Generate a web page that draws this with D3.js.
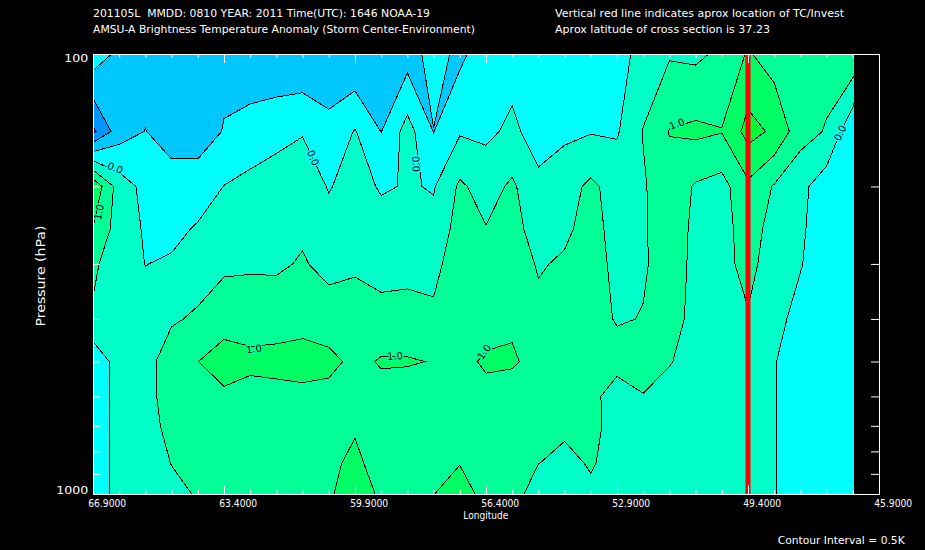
<!DOCTYPE html>
<html>
<head>
<meta charset="utf-8">
<script src="https://cdn.jsdelivr.net/npm/d3@7"></script>
<style>
  body { margin: 0; background: #000; }
  svg { display: block; font-family: "DejaVu Sans", sans-serif; }
  text { white-space: pre; }
</style>
</head>
<body>
<svg id="chart" width="925" height="550"></svg>
<script>
// grid longitudes (deg E) and pressure levels (hPa)
const lons = [66.9, 66.2, 65.5, 64.8, 64.1, 63.4, 62.7, 62.0, 61.3, 60.6,
              59.9, 59.2, 58.5, 57.8, 57.1, 56.4, 55.7, 55.0, 54.3, 53.6,
              52.9, 52.2, 51.5, 50.8, 50.1, 49.4, 48.7, 48.0, 47.3, 46.6];
const levels = [100, 150, 200, 250, 300, 400, 500, 600, 700, 850, 1000];

// temperature anomaly (K), one row per level, west -> east
const t100 = [-0.2, -0.62, -0.75, -0.8, -0.8, -0.6, -0.7, -0.75, -0.95, -0.8, -0.98, -0.85, -0.73, -0.31, -0.62, -0.2, -0.2, -0.3, -0.3, -0.3, -0.2, 0.18, 0.45, 0.4, 0.6, 1.05, 0.76, 0.8, 0.7, 0.9];
const t150 = [-1.6, -0.73, -0.49, -0.7, -0.7, -0.48, -0.39, -0.3, -0.05, -0.38, 0.03, -0.51, 0.2, -0.51, -0.05, -0.1, 0.1, -0.2, -0.1, -0.03, -0.05, 0.52, 1.02, 1.1, 1.02, 1.68, 1.41, 0.7, 0.46, -0.4];
const t200 = [1.4, 0.25, -0.14, -0.3, -0.3, 0.01, 0.18, 0.45, 0.45, -0.05, 0.3, -0.08, 0.05, -0.04, 0.58, 0.3, 0.58, 0.11, 0.3, 0.6, 0.3, 0.45, 0.8, 0.45, 0.32, 0.9, 0.46, 0.13, -0.27, -0.4];
const t250 = [0.98, 0.25, -0.05, -0.15, 0.06, 0.3, 0.35, 0.4, 0.45, 0.26, 0.35, 0.3, 0.3, 0.16, 0.7, 0.52, 0.7, 0.25, 0.4, 0.7, 0.3, 0.45, 0.75, 0.4, 0.3, 0.75, 0.3, 0.08, -0.3, -0.4];
const t300 = [0.56, 0.3, -0.01, 0.07, 0.3, 0.45, 0.46, 0.45, 0.53, 0.4, 0.45, 0.35, 0.35, 0.35, 0.8, 0.7, 0.8, 0.45, 0.57, 0.75, 0.35, 0.45, 0.7, 0.4, 0.35, 0.65, 0.25, 0.03, -0.3, -0.4];
const t400 = [0.46, 0.3, 0.2, 0.45, 0.56, 0.66, 0.67, 0.69, 0.75, 0.66, 0.66, 0.64, 0.68, 0.6, 0.85, 0.85, 0.95, 0.64, 0.75, 0.75, 0.45, 0.52, 0.7, 0.35, 0.35, 0.46, 0.15, -0.16, -0.35, -0.4];
const t500 = [-0.41, 0.25, 0.35, 0.72, 0.99, 1.37, 1.18, 1.22, 1.29, 1.17, 0.85, 1.05, 1.04, 0.98, 0.9, 1.05, 1.04, 0.89, 0.8, 0.75, 0.74, 0.7, 0.53, 0.3, 0.35, 0.4, 0.03, -0.3, -0.35, -0.4];
const t600 = [-0.3, 0.18, 0.35, 0.7, 0.9, 0.85, 0.73, 0.78, 0.81, 0.81, 0.85, 0.81, 0.77, 0.85, 0.9, 0.9, 0.85, 0.8, 0.7, 0.7, 0.18, 0.48, 0.33, 0.3, 0.35, 0.35, 0.03, -0.3, -0.35, -0.4];
const t700 = [-0.3, 0.18, 0.3, 0.65, 0.8, 0.8, 0.75, 0.8, 0.8, 0.85, 0.95, 0.8, 0.8, 0.85, 0.9, 0.9, 0.85, 0.7, 0.6, 0.65, 0.3, 0.35, 0.3, 0.3, 0.35, 0.3, 0.03, -0.3, -0.35, -0.4];
const t850 = [-0.3, 0.18, 0.3, 0.51, 0.65, 0.75, 0.75, 0.8, 0.8, 0.9, 1.1, 0.8, 0.85, 0.9, 0.98, 0.85, 0.85, 0.51, 0.36, 0.55, 0.3, 0.3, 0.3, 0.3, 0.3, 0.3, 0.03, -0.3, -0.35, -0.4];
const t1000 = [-0.3, 0.18, 0.3, 0.4, 0.53, 0.7, 0.75, 0.8, 0.8, 0.95, 1.2, 0.94, 0.85, 0.99, 1.25, 0.82, 0.75, 0.2, 0.3, 0.4, 0.3, 0.3, 0.3, 0.3, 0.3, 0.3, 0.03, -0.3, -0.35, -0.4];

const thresholds = [-1.5, -1.0, -0.5, 0, 0.5, 1.0, 1.5];
const bandColors = ["#8c00c8", "#0096ff", "#00c8ff", "#00ffff", "#00ffc8", "#00ff96", "#00ff64", "#00ff32"];

const majorLons = [66.9, 63.4, 59.9, 56.4, 52.9, 49.4, 45.9];
const minorLons = lons.concat([45.9]);
const pressureTicks = [200, 300, 400, 500, 600, 700, 800, 900];
const tcLon = 49.4;

const contourLabels = [
  { lon: 66.31, p: 181.6, text: "0.0", angle: 23 },
  { lon: 66.74, p: 228.7, text: "1.0", angle: -79 },
  { lon: 61.02, p: 172.3, text: "0.0", angle: 66 },
  { lon: 58.27, p: 177.8, text: "0.0", angle: 87 },
  { lon: 62.60, p: 468.0, text: "1.0", angle: -8 },
  { lon: 58.83, p: 485.8, text: "1.0", angle: -3 },
  { lon: 56.45, p: 475.7, text: "1.0", angle: -55 },
  { lon: 51.30, p: 144.2, text: "1.0", angle: -21 },
  { lon: 46.94, p: 151.2, text: "0.0", angle: -65 }
];

const svg = d3.select("#chart");

const x = d3.scaleLinear().domain([66.9, 45.9]).range([93, 879]);
const y = d3.scaleLog().domain([100, 1000]).range([54, 494]);

// grid index -> position
const colToLon = d3.scaleLinear().domain(d3.range(lons.length)).range(lons);
const rowToY = d3.scaleLinear().domain(d3.range(levels.length)).range(levels.map(y));

const grid = [t100, t150, t200, t250, t300, t400, t500, t600, t700, t850, t1000].flat();
const bands = d3.contours()
  .size([lons.length, levels.length])
  .thresholds(thresholds)(grid);

const project = d3.geoTransform({
  point(px, py) {
    this.stream.point(x(colToLon(px - 0.5)), rowToY(py - 0.5));
  }
});
const path = d3.geoPath(project);

const x0 = x(lons[0]), x1 = x(lons[lons.length - 1]) + 1;
svg.append("defs").append("clipPath").attr("id", "plot-clip")
  .append("rect")
  .attr("x", x0).attr("y", y(100))
  .attr("width", x1 - x0).attr("height", y(1000) - y(100));

const plot = svg.append("g").attr("clip-path", "url(#plot-clip)");

plot.append("rect")
  .attr("x", x0).attr("y", y(100))
  .attr("width", x1 - x0).attr("height", y(1000) - y(100))
  .attr("fill", bandColors[0]);

plot.selectAll("path.band")
  .data(bands)
  .join("path")
  .attr("class", "band")
  .attr("d", path)
  .attr("fill", (d, i) => bandColors[i + 1]);

plot.selectAll("path.iso")
  .data(bands)
  .join("path")
  .attr("class", "iso")
  .attr("d", path)
  .attr("fill", "none")
  .attr("stroke", "#000")
  .attr("stroke-width", 1)
  .attr("shape-rendering", "crispEdges");

// contour labels
plot.selectAll("text.clab")
  .data(contourLabels)
  .join("text")
  .attr("class", "clab")
  .attr("transform", d => `translate(${x(d.lon)},${y(d.p)}) rotate(${d.angle})`)
  .attr("text-anchor", "middle")
  .attr("dominant-baseline", "central")
  .attr("font-size", 10)
  .attr("fill", "#000")
  .attr("stroke", d => bandColors[thresholds.indexOf(+d.text)])
  .attr("stroke-width", 3)
  .attr("paint-order", "stroke")
  .text(d => d.text);

// TC location
svg.append("rect")
  .attr("x", x(tcLon) - 2.5)
  .attr("y", y(100))
  .attr("width", 5)
  .attr("height", y(1000) - y(100))
  .attr("fill", "#ff0000");

// ticks
function ticks(axis, tx, ty) {
  svg.append("g")
    .attr("transform", `translate(${tx},${ty})`)
    .attr("color", "#fff")
    .call(axis)
    .call(g => g.select(".domain").remove());
}
ticks(d3.axisBottom(x).tickValues(minorLons).tickSize(4).tickFormat(""), 0, y(100));
ticks(d3.axisBottom(x).tickValues(majorLons).tickSize(9).tickFormat(""), 0, y(100));
ticks(d3.axisTop(x).tickValues(minorLons).tickSize(4).tickFormat(""), 0, y(1000));
ticks(d3.axisTop(x).tickValues(majorLons).tickSize(9).tickFormat(""), 0, y(1000));
ticks(d3.axisRight(y).tickValues(pressureTicks).tickSize(7).tickFormat(""), 93, 0);
ticks(d3.axisLeft(y).tickValues(pressureTicks).tickSize(8).tickFormat(""), 879, 0);

// frame
svg.append("rect")
  .attr("x", 93.5).attr("y", 54.5)
  .attr("width", 786).attr("height", 440)
  .attr("fill", "none")
  .attr("stroke", "#fff");

// longitude labels
const xLab = svg.append("g")
  .attr("transform", `translate(0,${y(1000)})`)
  .call(d3.axisBottom(x).tickValues(majorLons).tickSize(0).tickPadding(6).tickFormat(d3.format(".4f")));
xLab.select(".domain").remove();
xLab.selectAll("text")
  .attr("dx", 13.7)
  .attr("fill", "#fff")
  .attr("font-size", 10)
  .attr("font-family", "DejaVu Sans")
  .attr("textLength", 38)
  .attr("lengthAdjust", "spacingAndGlyphs");

// pressure labels
svg.append("text")
  .attr("x", 88.3).attr("y", y(100) + 8.3)
  .attr("text-anchor", "end").attr("fill", "#fff").attr("font-size", 10)
  .attr("textLength", 24).attr("lengthAdjust", "spacingAndGlyphs")
  .text("100");
svg.append("text")
  .attr("x", 88.3).attr("y", y(1000))
  .attr("text-anchor", "end").attr("fill", "#fff").attr("font-size", 10)
  .attr("textLength", 32).attr("lengthAdjust", "spacingAndGlyphs")
  .text("1000");

// titles and notes
const notes = [
  { t: "201105L  MMDD: 0810 YEAR: 2011 Time(UTC): 1646 NOAA-19", x: 93, y: 16.5, w: 337, s: 10 },
  { t: "AMSU-A Brightness Temperature Anomaly (Storm Center-Environment)", x: 93, y: 32.5, w: 382, s: 10 },
  { t: "Vertical red line indicates aprox location of TC/Invest", x: 555, y: 16.5, w: 289, s: 10 },
  { t: "Aprox latitude of cross section is 37.23", x: 555, y: 32.5, w: 215, s: 10 },
  { t: "Longitude", x: 463.3, y: 519, w: 45, s: 10 },
  { t: "Contour Interval = 0.5K", x: 777.7, y: 544, w: 127, s: 11 }
];
svg.selectAll("text.note")
  .data(notes)
  .join("text")
  .attr("class", "note")
  .attr("x", d => d.x).attr("y", d => d.y)
  .attr("fill", "#fff")
  .attr("font-size", d => d.s)
  .attr("textLength", d => d.w)
  .attr("lengthAdjust", "spacingAndGlyphs")
  .text(d => d.t);

svg.append("text")
  .attr("transform", "translate(45,276) rotate(-90)")
  .attr("text-anchor", "middle")
  .attr("fill", "#fff")
  .attr("font-size", 12)
  .attr("textLength", 101)
  .attr("lengthAdjust", "spacingAndGlyphs")
  .text("Pressure (hPa)");
</script>
</body>
</html>
